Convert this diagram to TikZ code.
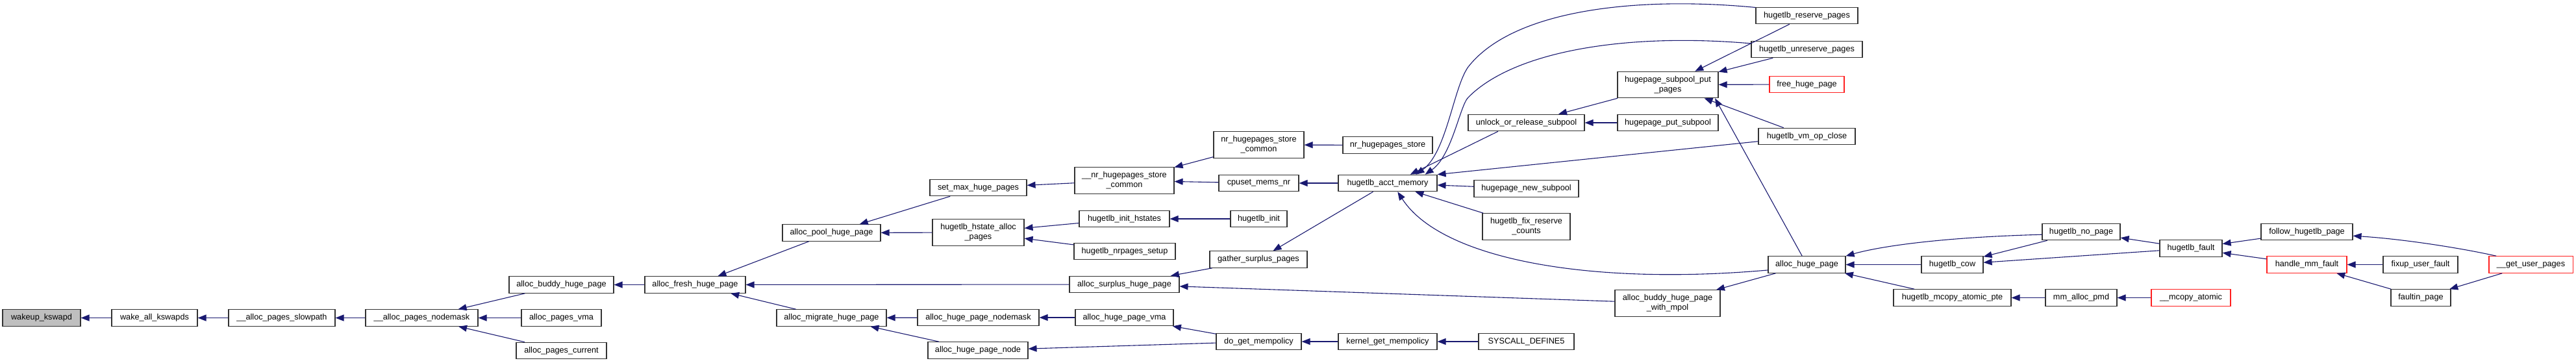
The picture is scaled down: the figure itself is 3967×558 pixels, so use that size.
\documentclass[tikz,border=0pt]{standalone}
\usepackage{fontspec}
\setmainfont{Liberation Sans}
\usetikzlibrary{arrows.meta}
\definecolor{cEdge}{HTML}{191970}
\definecolor{cLine}{HTML}{333333}
\definecolor{cMiss}{HTML}{FF2020}
\definecolor{cRoot}{HTML}{BFBFBF}
\tikzset{
  fnbox/.style={
    draw=cLine, line width=1.1pt,
    fill=white,
    inner sep=0pt,
    minimum width=#1,
    minimum height=25.5pt,
    align=center,
    font=\fontsize{12.7}{15}\selectfont
  },
  fnbox/.default=100pt,
  fntwo/.style={fnbox=#1, minimum height=40.5pt},
  rootbox/.style={fnbox=#1, fill=cRoot},
  missbox/.style={fnbox=#1, draw=cMiss},
  call/.style={
    -{Triangle[length=13pt,width=10pt]},
    line width=1.1pt,
    draw=cEdge
  }
}

\begin{document}
\begin{tikzpicture}[x=1pt, y=-1pt]
  \useasboundingbox (0,0) rectangle (3967,558);

  \node[rootbox=120pt] (wakeup) at (64,489.5) {wakeup\_kswapd};
  \node[fnbox=132pt] (wakeall) at (238,489.5) {wake\_all\_kswapds};
  \node[fnbox=164pt] (slowpath) at (434,489.5) {\_\_alloc\_pages\_slowpath};
  \node[fnbox=173pt] (nodemask) at (649.5,489.5) {\_\_alloc\_pages\_nodemask};
  \node[fnbox=161pt] (buddy) at (864.5,438.5) {alloc\_buddy\_huge\_page};
  \node[fnbox=123pt] (pagesvma) at (864.5,489.5) {alloc\_pages\_vma};
  \node[fnbox=139pt] (pagescur) at (864.5,540) {alloc\_pages\_current};
  \node[fnbox=155pt] (fresh) at (1070.5,438.5) {alloc\_fresh\_huge\_page};
  \node[fnbox=151pt] (pool) at (1280.5,358.5) {alloc\_pool\_huge\_page};
  \node[fnbox=169pt] (migrate) at (1280.5,489.5) {alloc\_migrate\_huge\_page};
  \node[fnbox=149pt] (setmax) at (1506.5,289) {set\_max\_huge\_pages};
  \node[fntwo=141pt] (hstate) at (1506.5,358) {hugetlb\_hstate\_alloc\\\_pages};
  \node[fnbox=187pt] (hpnodemask) at (1506.5,489) {alloc\_huge\_page\_nodemask};
  \node[fnbox=154pt] (hpnode) at (1506,539.5) {alloc\_huge\_page\_node};
  \node[fntwo=153pt] (nrcommon) at (1731.5,278) {\_\_nr\_hugepages\_store\\\_common};
  \node[fnbox=139pt] (inithstates) at (1731.5,337) {hugetlb\_init\_hstates};
  \node[fnbox=156pt] (nrsetup) at (1732,387) {hugetlb\_nrpages\_setup};
  \node[fnbox=169pt] (surplus) at (1731.5,438) {alloc\_surplus\_huge\_page};
  \node[fnbox=151pt] (hpvma) at (1731.5,489) {alloc\_huge\_page\_vma};
  \node[fntwo=139pt] (nrstorecommon) at (1938.5,223) {nr\_hugepages\_store\\\_common};
  \node[fnbox=123pt] (cpuset) at (1938.5,282) {cpuset\_mems\_nr};
  \node[fnbox=87pt] (hinit) at (1938.5,337) {hugetlb\_init};
  \node[fnbox=150pt] (gather) at (1938,399.5) {gather\_surplus\_pages};
  \node[fnbox=131pt] (dogetmp) at (1938.5,526) {do\_get\_mempolicy};
  \node[fnbox=138pt] (nrstore) at (2137,223.5) {nr\_hugepages\_store};
  \node[fnbox=152pt] (acct) at (2137,282) {hugetlb\_acct\_memory};
  \node[fnbox=152pt] (kgetmp) at (2137,526) {kernel\_get\_mempolicy};
  \node[fnbox=179pt] (unlock) at (2350.5,189) {unlock\_or\_release\_subpool};
  \node[fnbox=161pt] (newsubpool) at (2350.5,290.5) {hugepage\_new\_subpool};
  \node[fntwo=135pt] (fixreserve) at (2350.5,349) {hugetlb\_fix\_reserve\\\_counts};
  \node[fnbox=147pt] (syscall) at (2350.5,526) {SYSCALL\_DEFINE5};
  \node[fntwo=155pt] (subpoolput) at (2568.5,130.5) {hugepage\_subpool\_put\\\_pages};
  \node[fnbox=155pt] (putsubpool) at (2568.5,189) {hugepage\_put\_subpool};
  \node[fntwo=162pt] (buddympol) at (2568,467) {alloc\_buddy\_huge\_page\\\_with\_mpol};
  \node[fnbox=157pt] (reserve) at (2782.5,24) {hugetlb\_reserve\_pages};
  \node[fnbox=171pt] (unreserve) at (2782.5,76) {hugetlb\_unreserve\_pages};
  \node[missbox=115pt] (freehp) at (2782.5,130) {free\_huge\_page};
  \node[fnbox=149pt] (vmclose) at (2782.5,210) {hugetlb\_vm\_op\_close};
  \node[fnbox=119pt] (ahp) at (2782.5,407.5) {alloc\_huge\_page};
  \node[fnbox=95pt] (cow) at (3006.5,407.5) {hugetlb\_cow};
  \node[fnbox=181pt] (mcopypte) at (3006.5,458.5) {hugetlb\_mcopy\_atomic\_pte};
  \node[fnbox=120pt] (nopage) at (3205,357) {hugetlb\_no\_page};
  \node[fnbox=110pt] (mmpmd) at (3205,458.5) {mm\_alloc\_pmd};
  \node[fnbox=96pt] (fault) at (3374,382.5) {hugetlb\_fault};
  \node[missbox=122pt] (mcopyatomic) at (3374,458.5) {\_\_mcopy\_atomic};
  \node[fnbox=141pt] (follow) at (3552.5,357) {follow\_hugetlb\_page};
  \node[missbox=123pt] (handle) at (3552.5,407.5) {handle\_mm\_fault};
  \node[fnbox=115pt] (fixup) at (3727.5,407.5) {fixup\_user\_fault};
  \node[fnbox=92pt] (faultin) at (3728,458.5) {faultin\_page};
  \node[missbox=129pt] (gup) at (3897.5,407.5) {\_\_get\_user\_pages};

  \draw[call] (wakeall) -- (wakeup);
  \draw[call] (slowpath) -- (wakeall);
  \draw[call] (nodemask) -- (slowpath);
  \draw[call] (buddy) -- (nodemask);
  \draw[call] (pagesvma) -- (nodemask);
  \draw[call] (pagescur) -- (nodemask);
  \draw[call] (fresh) -- (buddy);
  \draw[call] (pool) -- (fresh);
  \draw[call] (surplus) -- (fresh);
  \draw[call] (migrate) -- (fresh);
  \draw[call] (setmax) -- (pool);
  \draw[call] (hstate) -- (pool);
  \draw[call] (nrcommon) -- (setmax);
  \draw[call] (nrstorecommon) -- (nrcommon);
  \draw[call] (cpuset) -- (nrcommon);
  \draw[call] (inithstates) -- (hstate);
  \draw[call] (nrsetup) -- (hstate);
  \draw[call] (hinit) -- (inithstates);
  \draw[call] (gather) -- (surplus);
  \draw[call] (buddympol) -- (surplus);
  \draw[call] (hpnodemask) -- (migrate);
  \draw[call] (hpnode) -- (migrate);
  \draw[call] (hpvma) -- (hpnodemask);
  \draw[call] (dogetmp) -- (hpvma);
  \draw[call] (dogetmp) -- (hpnode);
  \draw[call] (kgetmp) -- (dogetmp);
  \draw[call] (syscall) -- (kgetmp);
  \draw[call] (nrstore) -- (nrstorecommon);
  \draw[call] (acct) -- (cpuset);
  \draw[call] (acct) -- (gather);
  \draw[call] (unlock.197) -- (acct.21);
  \draw[call] (reserve.171) .. controls (2520,-6) and (2330,15) .. (2261,103)
    .. controls (2238,135) and (2228,235) .. (acct.17);
  \draw[call] (unreserve.174) .. controls (2500,50) and (2330,80) .. (2261,150)
    .. controls (2248,163) and (2236,240) .. (acct.13);
  \draw[call] (vmclose) -- (acct.north east);
  \draw[call] (newsubpool) -- (acct);
  \draw[call] (fixreserve) -- (acct);
  \draw[call] (ahp.188) .. controls (2450,440) and (2220,400) .. (acct.-41);
  \draw[call] (subpoolput) -- (unlock);
  \draw[call] (putsubpool) -- (unlock);
  \draw[call] (reserve) -- (subpoolput);
  \draw[call] (unreserve) -- (subpoolput);
  \draw[call] (freehp) -- (subpoolput);
  \draw[call] (vmclose) -- (subpoolput);
  \draw[call] (ahp) -- (subpoolput.-16);
  \draw[call] (ahp) -- (buddympol);
  \draw[call] (nopage.184) .. controls (3000,365) and (2900,378) .. (ahp.north east);
  \draw[call] (cow) -- (ahp);
  \draw[call] (mcopypte) -- (ahp);
  \draw[call] (nopage) -- (cow);
  \draw[call] (fault) -- (cow);
  \draw[call] (fault) -- (nopage);
  \draw[call] (mmpmd) -- (mcopypte);
  \draw[call] (mcopyatomic) -- (mmpmd);
  \draw[call] (follow) -- (fault);
  \draw[call] (handle) -- (fault);
  \draw[call] (fixup) -- (handle);
  \draw[call] (faultin) -- (handle);
  \draw[call] (gup) -- (faultin);
  \draw[call] (gup.166) .. controls (3790,382) and (3700,368) .. (follow.-5);
\end{tikzpicture}
\end{document}
